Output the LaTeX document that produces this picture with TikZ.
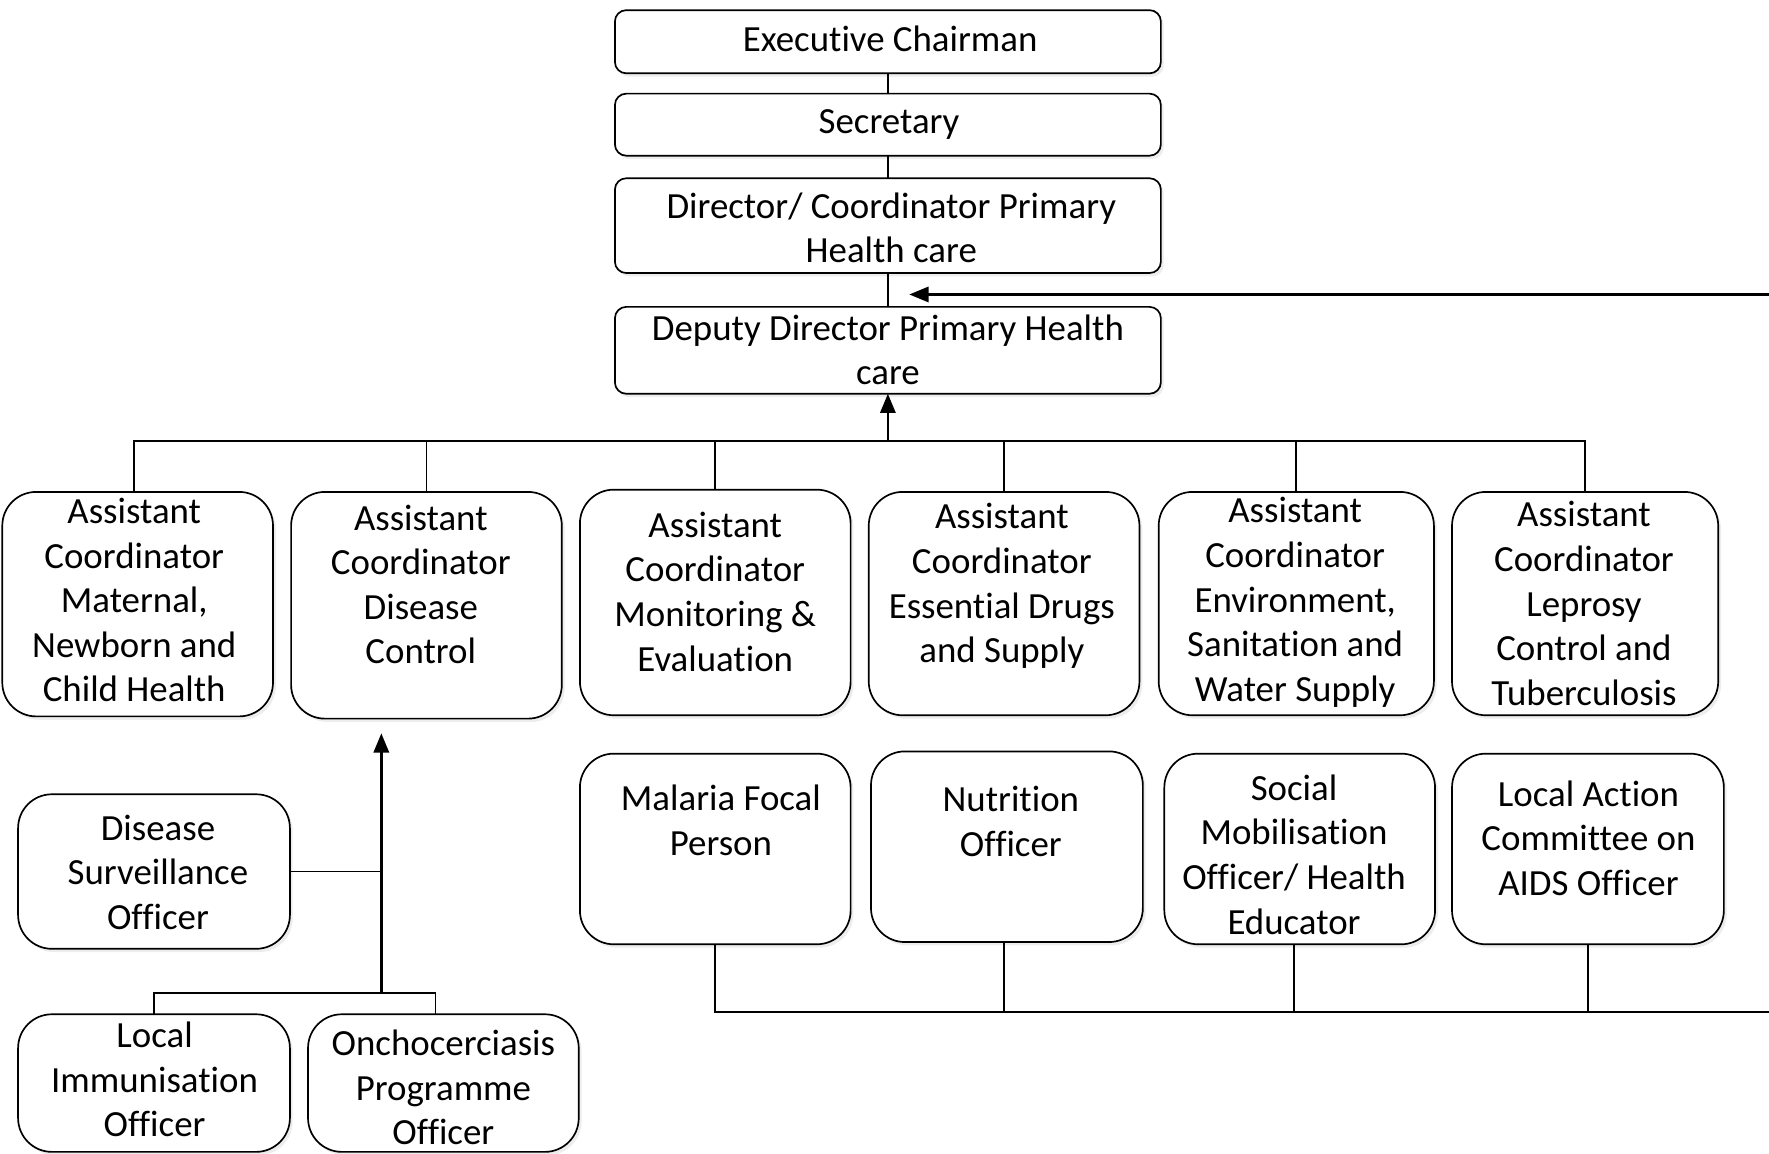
\documentclass[tikz,border=0pt]{standalone}
\usepackage{fontspec}
\setmainfont{Carlito}[Ligatures=NoCommon]
\usetikzlibrary{arrows.meta,shadows}
\begin{document}
\begin{tikzpicture}[x=0.02cm,y=-0.02cm,
  box/.style={draw, line width=0.85pt, inner sep=0pt, outer sep=0pt, fill=white,
    drop shadow={shadow xshift=0.05cm, shadow yshift=-0.06cm, fill=black!14}},
  topbox/.style={box, rounded corners=0.2cm},
  subbox/.style={box, rounded corners=0.6cm},
  lbl/.style={inner sep=0pt, align=center, font=\fontsize{18.6}{22.5}\selectfont},
  link/.style={line width=0.85pt},
  arr/.style={line width=1.2pt, -{Triangle[length=0.34cm,width=0.27cm]}}]
\useasboundingbox (0,0) rectangle (1568,1022);

% ---- top chain
\node[topbox, minimum width=9.68cm, minimum height=1.12cm] (exec) at (787,37) {};
\node[topbox, minimum width=9.68cm, minimum height=1.10cm] (sec) at (787,110.5) {};
\node[topbox, minimum width=9.68cm, minimum height=1.68cm] (dir) at (787,200) {};
\node[topbox, minimum width=9.68cm, minimum height=1.54cm] (dep) at (787,310.5) {};
\node[lbl] (exec-t) at (789,34) {Executive Chairman};
\node[lbl] (sec-t) at (788,110) {Secretary};
\node[lbl] (dir-t) at (790,202) {Director/ Coordinator Primary\\Health care};
\node[lbl] (dep-t) at (787,310) {Deputy Director Primary Health\\care};

\draw[link] (exec.south) -- (sec.north);
\draw[link] (sec.south) -- (dir.north);
\draw[link] (dir.south) -- (dep.north);

% ---- feedback line from the right
\coordinate (fbR) at (1568,261);
\coordinate (fbL) at (806,261);
\draw[arr] (fbR) -- (fbL);

% ---- assistant coordinators
\node[subbox, minimum width=4.80cm, minimum height=3.98cm] (a1) at (122,535.5) {};
\node[subbox, minimum width=4.80cm, minimum height=4.02cm] (a2) at (378,536.5) {};
\node[subbox, minimum width=4.80cm, minimum height=4.00cm] (a3) at (634,534) {};
\node[subbox, minimum width=4.80cm, minimum height=3.96cm] (a4) at (890,535) {};
\node[subbox, minimum width=4.88cm, minimum height=3.96cm] (a5) at (1149,535) {};
\node[subbox, minimum width=4.72cm, minimum height=3.96cm] (a6) at (1405,535) {};
\node[lbl] (a1-t) at (119,532) {Assistant\\Coordinator\\Maternal,\\Newborn and\\Child Health};
\node[lbl] (a2-t) at (373,518) {Assistant\\Coordinator\\Disease\\Control};
\node[lbl] (a3-t) at (634,524.5) {Assistant\\Coordinator\\Monitoring \&\\Evaluation};
\node[lbl] (a4-t) at (888,519.5) {Assistant\\Coordinator\\Essential Drugs\\and Supply};
\node[lbl] (a5-t) at (1148,534) {Assistant\\Coordinator\\Environment,\\Sanitation and\\Water Supply};
\node[lbl] (a6-t) at (1404,535) {Assistant\\Coordinator\\Leprosy\\Control and\\Tuberculosis};

\coordinate (bus) at (787,391);
\draw[link] ([xshift=-0.06cm]a1.north) -- ([xshift=-0.06cm]a1.north |- bus) -- (a6.north |- bus) -- (a6.north);
\foreach \n in {a2,a3,a4,a5} \draw[link] (\n.north) -- (\n.north |- bus);
\draw[arr] (bus) -- (dep.south);

% ---- programme officers
\node[subbox, minimum width=4.80cm, minimum height=3.38cm] (m1) at (634,752.5) {};
\node[subbox, minimum width=4.82cm, minimum height=3.38cm] (m2) at (892.5,750.5) {};
\node[subbox, minimum width=4.80cm, minimum height=3.38cm] (m3) at (1152,752.5) {};
\node[subbox, minimum width=4.82cm, minimum height=3.38cm] (m4) at (1407.5,752.5) {};
\node[lbl] (m1-t) at (639,727) {Malaria Focal\\Person};
\node[lbl] (m2-t) at (896,728) {Nutrition\\Officer};
\node[lbl] (m3-t) at (1147,757.5) {Social\\Mobilisation\\Officer/ Health\\Educator};
\node[lbl] (m4-t) at (1408,743) {Local Action\\Committee on\\AIDS Officer};

\coordinate (lowbus) at (634,897);
\coordinate (lowR) at (1568,897);
\draw[link] (m1.south) -- (m1.south |- lowbus) -- (lowR);
\draw[link] ([xshift=-0.05cm]m2.south) -- ([xshift=-0.05cm]m2.south |- lowbus);
\draw[link] ([xshift=-0.1cm]m3.south) -- ([xshift=-0.1cm]m3.south |- lowbus);
\draw[link] (m4.south) -- (m4.south |- lowbus);

% ---- disease control unit
\node[subbox, minimum width=4.82cm, minimum height=2.74cm] (ds) at (136.5,772.5) {};
\node[subbox, minimum width=4.82cm, minimum height=2.44cm] (li) at (136.5,960) {};
\node[subbox, minimum width=4.80cm, minimum height=2.44cm] (oc) at (393,960) {};
\node[lbl] (ds-t) at (140,773) {Disease\\Surveillance\\Officer};
\node[lbl] (li-t) at (137,957) {Local\\Immunisation\\Officer};
\node[lbl] (oc-t) at (393,964) {Onchocerciasis\\Programme\\Officer};

\coordinate (dcbase) at (338,880);
\coordinate (dctip) at (338,650);
\draw[arr] (dcbase) -- (dctip);
\draw[link] (ds.east) -- (ds.east -| dcbase);
\draw[link] (li.north) -- (li.north |- dcbase) -- ([xshift=-0.14cm]oc.north |- dcbase) -- ([xshift=-0.14cm]oc.north);
\end{tikzpicture}
\end{document}
